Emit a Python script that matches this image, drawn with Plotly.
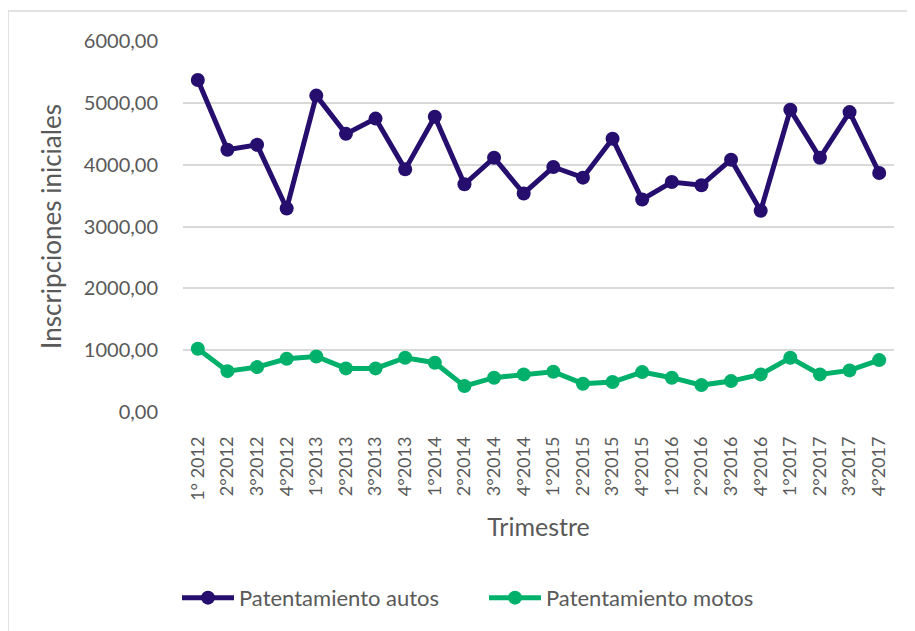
import plotly.graph_objects as go

trimestres = ["1° 2012", "2°2012", "3°2012", "4°2012", "1°2013", "2°2013", "3°2013", "4°2013",
              "1°2014", "2°2014", "3°2014", "4°2014", "1°2015", "2°2015", "3°2015", "4°2015",
              "1°2016", "2°2016", "3°2016", "4°2016", "1°2017", "2°2017", "3°2017", "4°2017"]

autos = [5370, 4241, 4321, 3292, 5117, 4498, 4745, 3924, 4776, 3683, 4112, 3534,
         3962, 3790, 4418, 3437, 3720, 3667, 4080, 3254, 4887, 4112, 4850, 3866]

motos = [1022, 661, 726, 861, 898, 705, 705, 877, 797, 419, 555, 608,
         651, 458, 484, 645, 555, 435, 500, 608, 877, 608, 673, 839]

y_ticks = [0, 1000, 2000, 3000, 4000, 5000, 6000]
y_ticktext = ["0,00", "1000,00", "2000,00", "3000,00", "4000,00", "5000,00", "6000,00"]

FONT = "Lato, Open Sans, sans-serif"
GREY = "#595959"

fig = go.Figure()
fig.add_trace(go.Scatter(x=trimestres, y=autos, mode="lines+markers", name="Patentamiento autos",
                         line=dict(color="#250E6E", width=5),
                         marker=dict(color="#250E6E", size=14)))
fig.add_trace(go.Scatter(x=trimestres, y=motos, mode="lines+markers", name="Patentamiento motos",
                         line=dict(color="#00B06B", width=5),
                         marker=dict(color="#00B06B", size=14)))

# page body adds an 8px offset; margins compensate so the plot area sits at x 183..894, y 41..412
fig.update_layout(
    width=915, height=631,
    margin=dict(l=175, r=29, t=33, b=227, autoexpand=False),
    paper_bgcolor="white", plot_bgcolor="white",
    font=dict(family=FONT, color=GREY, size=18),
    showlegend=True,
    legend=dict(orientation="h", x=(177 - 183) / 711, xanchor="left", y=-0.501, yanchor="middle",
                font=dict(size=22, color=GREY), tracegroupgap=0,
                entrywidth=240, entrywidthmode="pixels", itemwidth=52),
    xaxis=dict(type="category", range=[-0.5, 23.5], tickangle=-90, showgrid=False,
               showline=False, zeroline=False, ticks="", ticklabelstandoff=20,
               tickfont=dict(size=18, color=GREY),
               title=dict(text="Trimestre", font=dict(size=25, color=GREY), standoff=18)),
    yaxis=dict(range=[0, 6000], tickvals=y_ticks, ticktext=y_ticktext,
               showgrid=True, gridcolor="#D9D9D9", gridwidth=2, zeroline=False,
               showline=False, ticks="", ticklabelstandoff=24,
               tickfont=dict(size=20, color=GREY),
               title=dict(text="Inscripciones iniciales", font=dict(size=26, color=GREY), standoff=14)),
    shapes=[
        dict(type="line", xref="paper", yref="paper",
             x0=(8 - 183) / 711, x1=(925 - 183) / 711, y0=(412 - 11) / 371, y1=(412 - 11) / 371,
             line=dict(color="#D9D9D9", width=1.5)),
        dict(type="line", xref="paper", yref="paper",
             x0=(8 - 183) / 711, x1=(8 - 183) / 711, y0=(412 - 11) / 371, y1=(412 - 650) / 371,
             line=dict(color="#D9D9D9", width=1.5)),
    ],
)

fig.write_html("out.html")
